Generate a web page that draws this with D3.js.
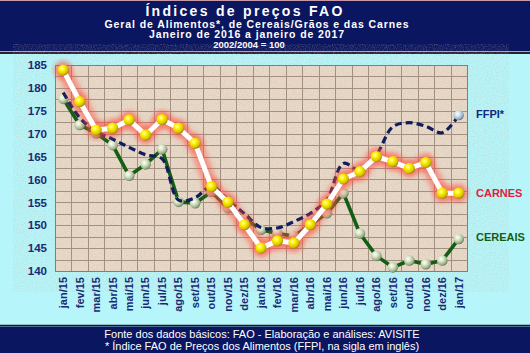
<!DOCTYPE html>
<html>
<head>
<meta charset="utf-8">
<script src="https://cdn.jsdelivr.net/npm/d3@7"></script>
<style>
  html, body { margin: 0; padding: 0; background: #b6f6fa; }
  svg { display: block; font-family: "Liberation Sans", Arial, sans-serif; }
</style>
</head>
<body>
<div id="chart"></div>
<script>
// ========== DATA ==========
const months = ["jan/15", "fev/15", "mar/15", "abr/15", "mai/15", "jun/15", "jul/15", "ago/15", "set/15",
  "out/15", "nov/15", "dez/15", "jan/16", "fev/16", "mar/16", "abr/16", "mai/16", "jun/16", "jul/16",
  "ago/16", "set/16", "out/16", "nov/16", "dez/16", "jan/17"];
const carnes = [183.9, 177.0, 170.8, 171.2, 173.0, 169.7, 173.1, 171.2, 167.9, 158.4, 155.0, 150.1, 145.0,
  146.6, 146.1, 150.1, 154.6, 160.1, 161.7, 165.0, 163.9, 162.4, 163.7, 157.0, 157.0];
const cereais = [177.6, 171.9, 170.1, 167.5, 160.8, 163.3, 166.6, 155.1, 154.8, 157.3, 153.7, 151.5, 149.0,
  148.2, 147.6, 150.1, 152.6, 157.0, 148.2, 143.3, 140.8, 142.3, 141.5, 142.3, 147.0];
const ffpi = [179.0, 173.5, 170.5, 168.8, 167.0, 165.4, 164.5, 155.5, 156.0, 158.5, 155.5, 152.5, 149.5,
  149.4, 150.8, 152.6, 155.6, 163.5, 162.0, 165.4, 171.5, 172.4, 171.6, 170.2, 174.0];
const yTicks = [140, 145, 150, 155, 160, 165, 170, 175, 180, 185];
const titleLines = ["Índices de preços FAO", "Geral de Alimentos*, de Cereais/Grãos e das Carnes",
  "Janeiro de 2016 a janeiro de 2017", "2002/2004 = 100"];
const footLines = ["Fonte dos dados básicos: FAO - Elaboração e análises: AVISITE",
  "* Índice FAO de Preços dos Alimentos (FFPI, na sigla em inglês)"];

const W = 530, H = 353;
const navy = "#0b1660";
const plot = { left: 55, right: 467, top: 65, bottom: 271 };

const svg = d3.select("#chart").append("svg").attr("width", W).attr("height", H);
const defs = svg.append("defs");

// ball gradients
function ballGrad(id, stops) {
  const g = defs.append("radialGradient").attr("id", id)
    .attr("cx", "38%").attr("cy", "35%").attr("r", "65%");
  stops.forEach(s => g.append("stop").attr("offset", s[0]).attr("stop-color", s[1]));
}
ballGrad("ball-yellow", [["0%", "#ffffc0"], ["35%", "#fff200"], ["80%", "#d8c000"], ["100%", "#9a8a10"]]);
ballGrad("ball-green", [["0%", "#ffffff"], ["40%", "#d8e4c4"], ["85%", "#9aac88"], ["100%", "#6a7a5a"]]);
ballGrad("ball-blue", [["0%", "#ffffff"], ["40%", "#cfe2ec"], ["85%", "#8aa6b6"], ["100%", "#5a7484"]]);

const glow = defs.append("filter").attr("id", "glow").attr("x", "-10%").attr("y", "-10%")
  .attr("width", "120%").attr("height", "120%");
glow.append("feGaussianBlur").attr("stdDeviation", 2.8);

const tex = defs.append("filter").attr("id", "tex");
tex.append("feTurbulence").attr("type", "fractalNoise").attr("baseFrequency", 0.9)
  .attr("numOctaves", 2).attr("seed", 3).attr("result", "n");
tex.append("feColorMatrix").attr("type", "matrix")
  .attr("values", "0 0 0 0 0.55  0 0 0 0 0.45  0 0 0 0 0.38  1.2 0 0 0 -0.45");

// background
svg.append("rect").attr("width", W).attr("height", H).attr("fill", "#b6f6fa");

// header
svg.append("rect").attr("width", W).attr("height", 51).attr("fill", navy);
svg.append("line").attr("x1", 0).attr("x2", W).attr("y1", 0.5).attr("y2", 0.5).attr("stroke", "#c89aa8");
svg.append("line").attr("x1", 0).attr("x2", W).attr("y1", 51.5).attr("y2", 51.5).attr("stroke", "#c89aa8");
svg.append("line").attr("x1", 0).attr("x2", W).attr("y1", 53).attr("y2", 53).attr("stroke", "#2a2030").attr("stroke-width", 2);

const header = [
  { t: titleLines[0], x: 245, y: 16, size: 14, ls: 2.3 },
  { t: titleLines[1], x: 257, y: 27.5, size: 10.5, ls: 0.9 },
  { t: titleLines[2], x: 247, y: 38, size: 10.5, ls: 0.9 },
  { t: titleLines[3], x: 249, y: 48, size: 9.5, ls: 0 }
];
header.forEach(h => {
  svg.append("text").attr("x", h.x).attr("y", h.y).attr("text-anchor", "middle")
    .attr("fill", "#fff").attr("font-size", h.size + "px").attr("font-weight", "bold")
    .attr("letter-spacing", h.ls + "px").text(h.t);
});

// footer
svg.append("line").attr("x1", 0).attr("x2", W).attr("y1", 325.5).attr("y2", 325.5).attr("stroke", "#1a1a22").attr("stroke-width", 1.5);
svg.append("rect").attr("y", 326.5).attr("width", W).attr("height", H - 326.5).attr("fill", navy);
footLines.forEach((t, i) => {
  svg.append("text").attr("x", 262).attr("y", 338 + i * 12).attr("text-anchor", "middle")
    .attr("fill", "#fff").attr("font-size", "11px").text(t);
});

// scales
const x = d3.scaleBand().domain(months).range([plot.left, plot.right]).padding(0);
const cx = d => x(d) + x.bandwidth() / 2;
const y = d3.scaleLinear().domain([140, 185]).range([plot.bottom, plot.top]);

// plot area
const pw = plot.right - plot.left, ph = plot.bottom - plot.top;
svg.append("rect").attr("x", plot.left).attr("y", plot.top).attr("width", pw).attr("height", ph)
  .attr("fill", "#e9d9c8");
svg.append("rect").attr("x", plot.left).attr("y", plot.top).attr("width", pw).attr("height", ph)
  .attr("filter", "url(#tex)").attr("opacity", 0.55);

// grid
const gridY = d3.range(140, 185.01, 2.5);
svg.append("g").selectAll("line").data(gridY).join("line")
  .attr("x1", plot.left).attr("x2", plot.right)
  .attr("y1", d => Math.round(y(d)) + 0.5).attr("y2", d => Math.round(y(d)) + 0.5)
  .attr("stroke", "#a39082").attr("stroke-width", 1);
svg.append("g").selectAll("line").data(months.concat(["end"])).join("line")
  .attr("x1", d => Math.round(d === "end" ? plot.right : x(d)) + 0.5)
  .attr("x2", d => Math.round(d === "end" ? plot.right : x(d)) + 0.5)
  .attr("y1", plot.top).attr("y2", plot.bottom)
  .attr("stroke", "#a39082").attr("stroke-width", 1);
svg.append("rect").attr("x", plot.left + 0.5).attr("y", plot.top + 0.5).attr("width", pw).attr("height", ph)
  .attr("fill", "none").attr("stroke", "#8c7c70");

// y axis
const yAxis = svg.append("g").attr("transform", `translate(${plot.left - 3},0)`)
  .call(d3.axisLeft(y).tickValues(yTicks).tickSize(0).tickPadding(5));
yAxis.select(".domain").remove();
yAxis.selectAll("text").attr("fill", "#1a2a72").attr("font-size", "11.5px").attr("font-weight", "bold")
  .attr("font-family", "Liberation Sans, Arial, sans-serif");

// x axis labels
const xAxis = svg.append("g").attr("transform", `translate(0,${plot.bottom})`)
  .call(d3.axisBottom(x).tickSize(0).tickPadding(0));
xAxis.select(".domain").remove();
xAxis.selectAll("text")
  .attr("transform", "rotate(-90)").attr("text-anchor", "end")
  .attr("x", -6).attr("y", 0).attr("dy", "0.35em")
  .attr("fill", "#1a2a72").attr("font-size", "11px").attr("font-weight", "bold")
  .attr("font-family", "Liberation Sans, Arial, sans-serif");

// lines
const line = d3.line().x((d, i) => cx(months[i])).y(d => y(d));
const smooth = d3.line().x((d, i) => cx(months[i])).y(d => y(d)).curve(d3.curveCatmullRom.alpha(0.5));

// cereais
svg.append("path").datum(cereais).attr("d", line).attr("fill", "none")
  .attr("stroke", "#145e14").attr("stroke-width", 3.6).attr("stroke-linejoin", "round");
svg.append("g").selectAll("circle").data(cereais).join("circle")
  .attr("cx", (d, i) => cx(months[i])).attr("cy", d => y(d)).attr("r", 5.3)
  .attr("fill", "url(#ball-green)");

// ffpi
svg.append("path").datum(ffpi).attr("d", smooth).attr("fill", "none")
  .attr("stroke", "#101c5c").attr("stroke-width", 3.2).attr("stroke-dasharray", "7,4");

// carnes glow + line + balls
const cg = svg.append("g");
cg.append("path").datum(carnes).attr("d", line).attr("fill", "none")
  .attr("stroke", "#ff5040").attr("stroke-width", 14).attr("stroke-linejoin", "round")
  .attr("stroke-linecap", "round").attr("opacity", 0.5).attr("filter", "url(#glow)");
cg.append("g").selectAll("circle").data(carnes).join("circle")
  .attr("cx", (d, i) => cx(months[i])).attr("cy", d => y(d)).attr("r", 9.5)
  .attr("fill", "#ff5040").attr("opacity", 0.4).attr("filter", "url(#glow)");
cg.append("path").datum(carnes).attr("d", line).attr("fill", "none")
  .attr("stroke", "#ffffff").attr("stroke-width", 5).attr("stroke-linejoin", "round");
cg.append("g").selectAll("circle").data(carnes).join("circle")
  .attr("cx", (d, i) => cx(months[i])).attr("cy", d => y(d)).attr("r", 5.6)
  .attr("fill", "url(#ball-yellow)");

// ffpi final ball
svg.append("circle").attr("cx", cx(months[months.length - 1])).attr("cy", y(ffpi[ffpi.length - 1]))
  .attr("r", 5).attr("fill", "url(#ball-blue)");

// series labels
const labels = [
  { text: "FFPI*", color: "#102a7a", y: 118 },
  { text: "CARNES", color: "#e0203c", y: 197 },
  { text: "CEREAIS", color: "#145e14", y: 241 }
];
labels.forEach(l => {
  svg.append("text").attr("x", 476).attr("y", l.y).attr("fill", l.color)
    .attr("font-size", "11px").attr("font-weight", "bold").text(l.text);
});
</script>
</body>
</html>
